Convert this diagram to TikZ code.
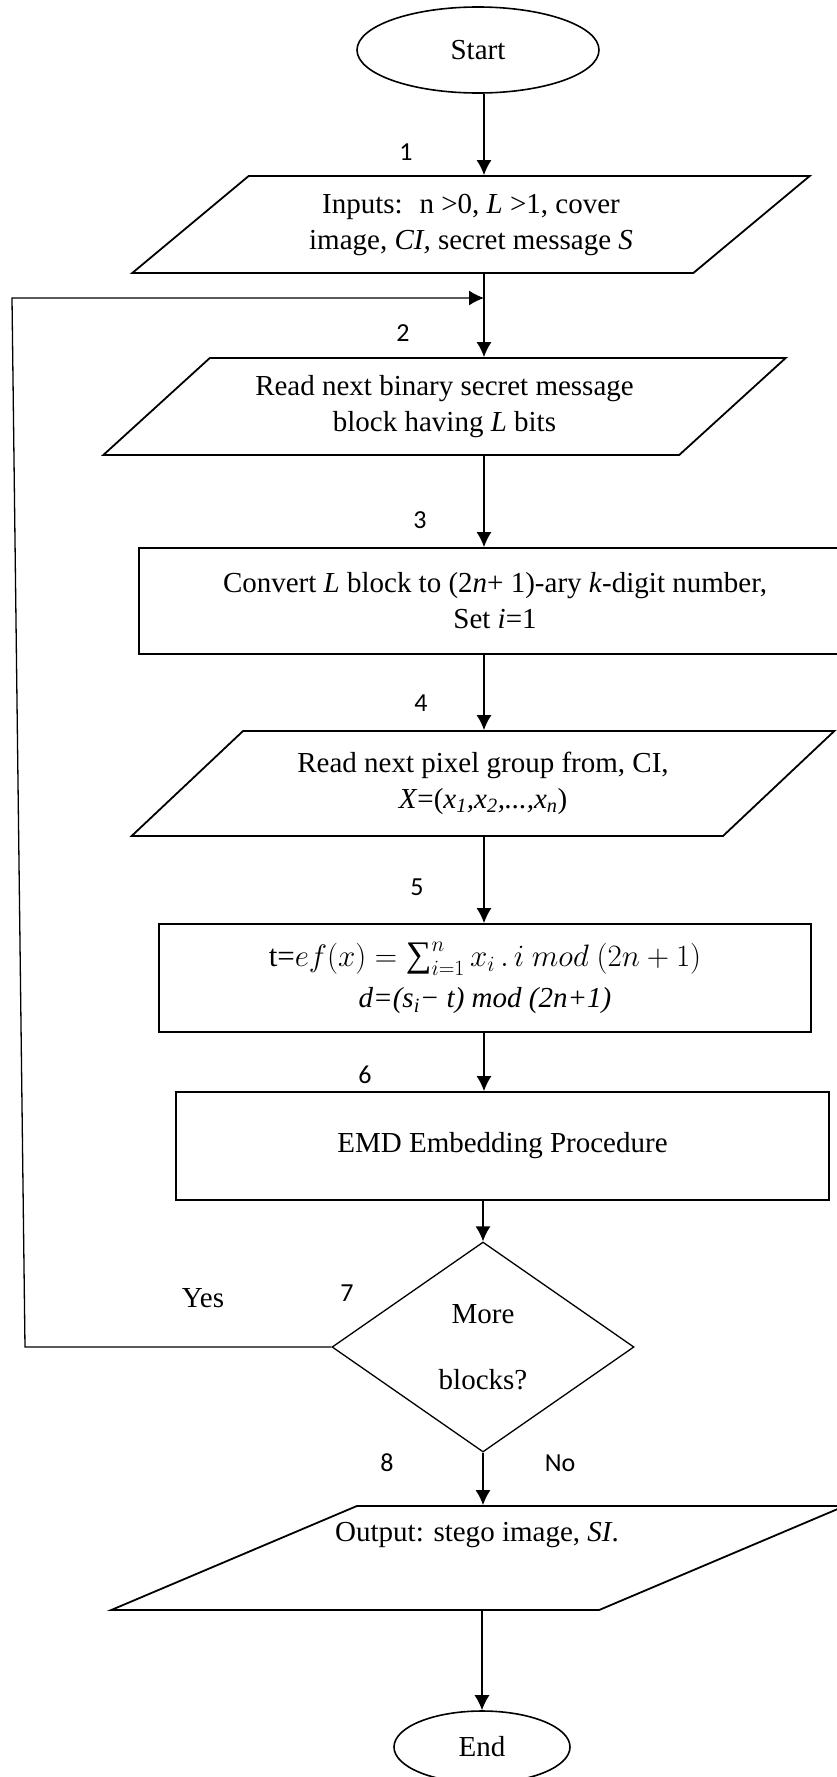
\RequirePackage{fix-cm}
\documentclass[tikz,border=0pt]{standalone}
\usepackage{fontspec}
\setmainfont{Liberation Serif}
\newfontfamily\stepfont{Carlito}
\usetikzlibrary{shapes.geometric,arrows.meta}

\begin{document}
\begin{tikzpicture}[x=1pt, y=-1pt, >={Latex[length=15pt,width=15pt]},
    every node/.style={font=\fontsize{29}{36}\selectfont, align=center},
    term/.style={ellipse, draw, line width=1.6pt, inner sep=0pt},
    io/.style={trapezium, trapezium left angle=36, trapezium right angle=144,
      trapezium stretches=true, draw, line width=1.8pt, inner sep=0pt},
    proc/.style={rectangle, draw, line width=1.8pt, inner sep=0pt},
    flow/.style={->, line width=1.3pt},
    stepno/.style={font=\stepfont\fontsize{26}{30}\selectfont}]
    \useasboundingbox (0,0) rectangle (837,1777);
    \coordinate (spine) at (484,0);

    % Start und Eingabe
    \node[term, minimum width=242, minimum height=86] (start) at (478,50) {Start};
    \node[io, minimum width=682, minimum height=97] (inp) at (471,224.5)
        {Inputs:~ n >0, \textit{L} >1, cover\\ image, \textit{CI,} secret message \textit{S}};
    \node[stepno] (n1) at (406,152) {1};
    \draw[flow] (start.south -| spine) -- (inp.north -| spine);

    % Block lesen
    \node[io, minimum width=683, minimum height=97] (rdblk) at (444.5,406.5)
        {Read next binary secret message\\ block having \textit{L} bits};
    \node[stepno] (n2) at (403,333) {2};
    \draw[flow] (inp.south -| spine) -- (rdblk.north -| spine);

    % Umwandlung
    \node[proc, minimum width=712, minimum height=106] (conv) at (495,601)
        {Convert \textit{L} block to (2\textit{n}+ 1)-ary \textit{k}-digit number,\\ Set \textit{i}=1};
    \node[stepno] (n3) at (420,520) {3};
    \draw[flow] (rdblk.south -| spine) -- (conv.north -| spine);

    % Pixelgruppe lesen
    \node[io, minimum width=706, minimum height=105] (rdpix) at (483,783.5)
        {Read next pixel group from, CI,\\ \textit{X}=(\textit{x\textsubscript{1},x\textsubscript{2},...,x\textsubscript{n}})};
    \node[stepno] (n4) at (421,703) {4};
    \draw[flow] (conv.south -| spine) -- (rdpix.north -| spine);

    % Formel
    \node[proc, minimum width=652, minimum height=108] (calc) at (485,978)
        {{\fontsize{31}{36}\selectfont t=$ef(x) = \mathop{\mbox{\fontsize{36}{36}\selectfont ∑}}\nolimits_{i=1}^{n} x_i \,.\, i\ mod\ (2n+1)$}\\[5pt]
         \textit{d=(s\textsubscript{i}− t) mod (2n+1)}};
    \node[stepno] (n5) at (417,887) {5};
    \draw[flow] (rdpix.south -| spine) -- (calc.north -| spine);

    % EMD
    \node[proc, minimum width=653, minimum height=108] (emd) at (502.5,1146)
        {EMD Embedding Procedure};
    \node[stepno] (n6) at (365,1075) {6};
    \draw[flow] (calc.south -| spine) -- (emd.north -| spine);

    % Entscheidung
    \node[diamond, draw, line width=1.3pt, inner sep=0pt, aspect=1.44,
        minimum width=302, minimum height=210] (more) at (483,1347)
        {More\\[30pt]blocks?};
    \node[stepno] (n7) at (347,1293) {7};
    \node (yes) at (203,1298) {Yes};
    \draw[flow] (emd.south -| more) -- (more.north);
    \coordinate (loopbot) at (25,1347);
    \coordinate (looptop) at (12,298);
    \draw[flow] (more.west) -- (loopbot) -- (looptop) -- (looptop -| spine);

    % Ausgabe und Ende
    \node[io, minimum width=734, minimum height=104] (out) at (478,1558) {\phantom{M}};
    \node (outtxt) at (477,1535) {Output: stego image, \textit{SI}.};
    \node[stepno] (n8) at (387,1463) {8};
    \node[stepno] (no) at (560,1463) {No};
    \draw[flow] (more.south) -- (out.north -| more);
    \node[term, minimum width=176, minimum height=72] (end) at (482,1747) {End};
    \draw[flow] (out.south -| end) -- (end.north);
\end{tikzpicture}
\end{document}
